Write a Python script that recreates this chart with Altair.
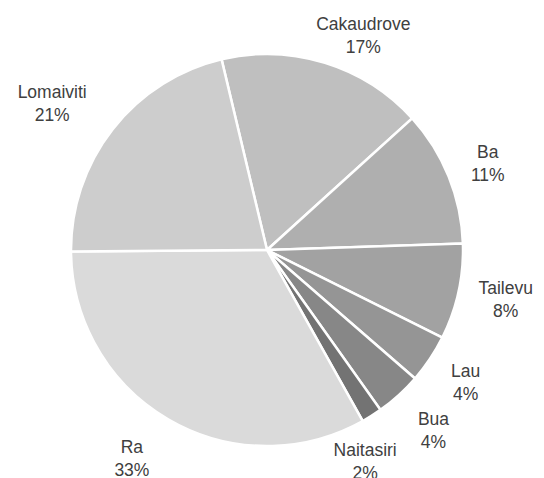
import math
import altair as alt
import pandas as pd

# ---- data ----
categories = ["Cakaudrove", "Ba", "Tailevu", "Lau", "Bua", "Naitasiri", "Ra", "Lomaiviti"]
values = [17.0, 11.2, 7.9, 4.0, 3.8, 1.7, 33.0, 21.4]

# ---- style ----
colors = ["#bfbfbf", "#afafaf", "#a2a2a2", "#959595", "#878787", "#737373", "#dadada", "#cdcdcd"]
label_nudge_deg = [7.0, 0.7, -0.4, 0.0, -0.4, 7.5, 2.7, -3.8]
label_radius = [235, 237, 244, 239, 246, 234, 249, 260]
start_deg = 346.6
W, H = 528, 470
CX, CY = 259, 242
R = 196

df = pd.DataFrame({"cat": categories, "value": values, "idx": list(range(len(categories)))})
total = sum(values)
cum = df["value"].cumsum() - df["value"]
df["lt"] = cum + df["value"] / 2 + [d / 360 * total for d in label_nudge_deg]
df["lr"] = label_radius
df["label"] = [f"{c}\n{round(v / total * 100):.0f}%" for c, v in zip(categories, values)]

a0 = math.radians(start_deg)
theta_scale = alt.Scale(domain=[0, total], range=[a0, a0 + 2 * math.pi])

base = alt.Chart(df)

arcs = base.mark_arc(radius=R, stroke="white", strokeWidth=2.5).encode(
    theta=alt.Theta("value:Q", stack=True, scale=theta_scale),
    color=alt.Color("cat:N", scale=alt.Scale(domain=categories, range=colors), legend=None),
    order=alt.Order("idx:Q"),
    x=alt.value(CX),
    y=alt.value(CY),
)

labels = base.mark_text(
    lineBreak="\n", font="Liberation Sans", fontSize=17.5, color="#404040",
    align="center", baseline="middle", lineHeight=23, dy=-11,
).encode(
    theta=alt.Theta("lt:Q", stack=False, scale=theta_scale),
    radius=alt.Radius("lr:Q", scale=None),
    text="label:N",
    x=alt.value(CX),
    y=alt.value(CY),
)

chart = alt.layer(arcs, labels).properties(
    width=W, height=H, padding=0, autosize=alt.AutoSizeParams(type="none")
).configure_view(stroke=None)

chart.save("out.html", embed_options={"renderer": "svg", "actions": False})
